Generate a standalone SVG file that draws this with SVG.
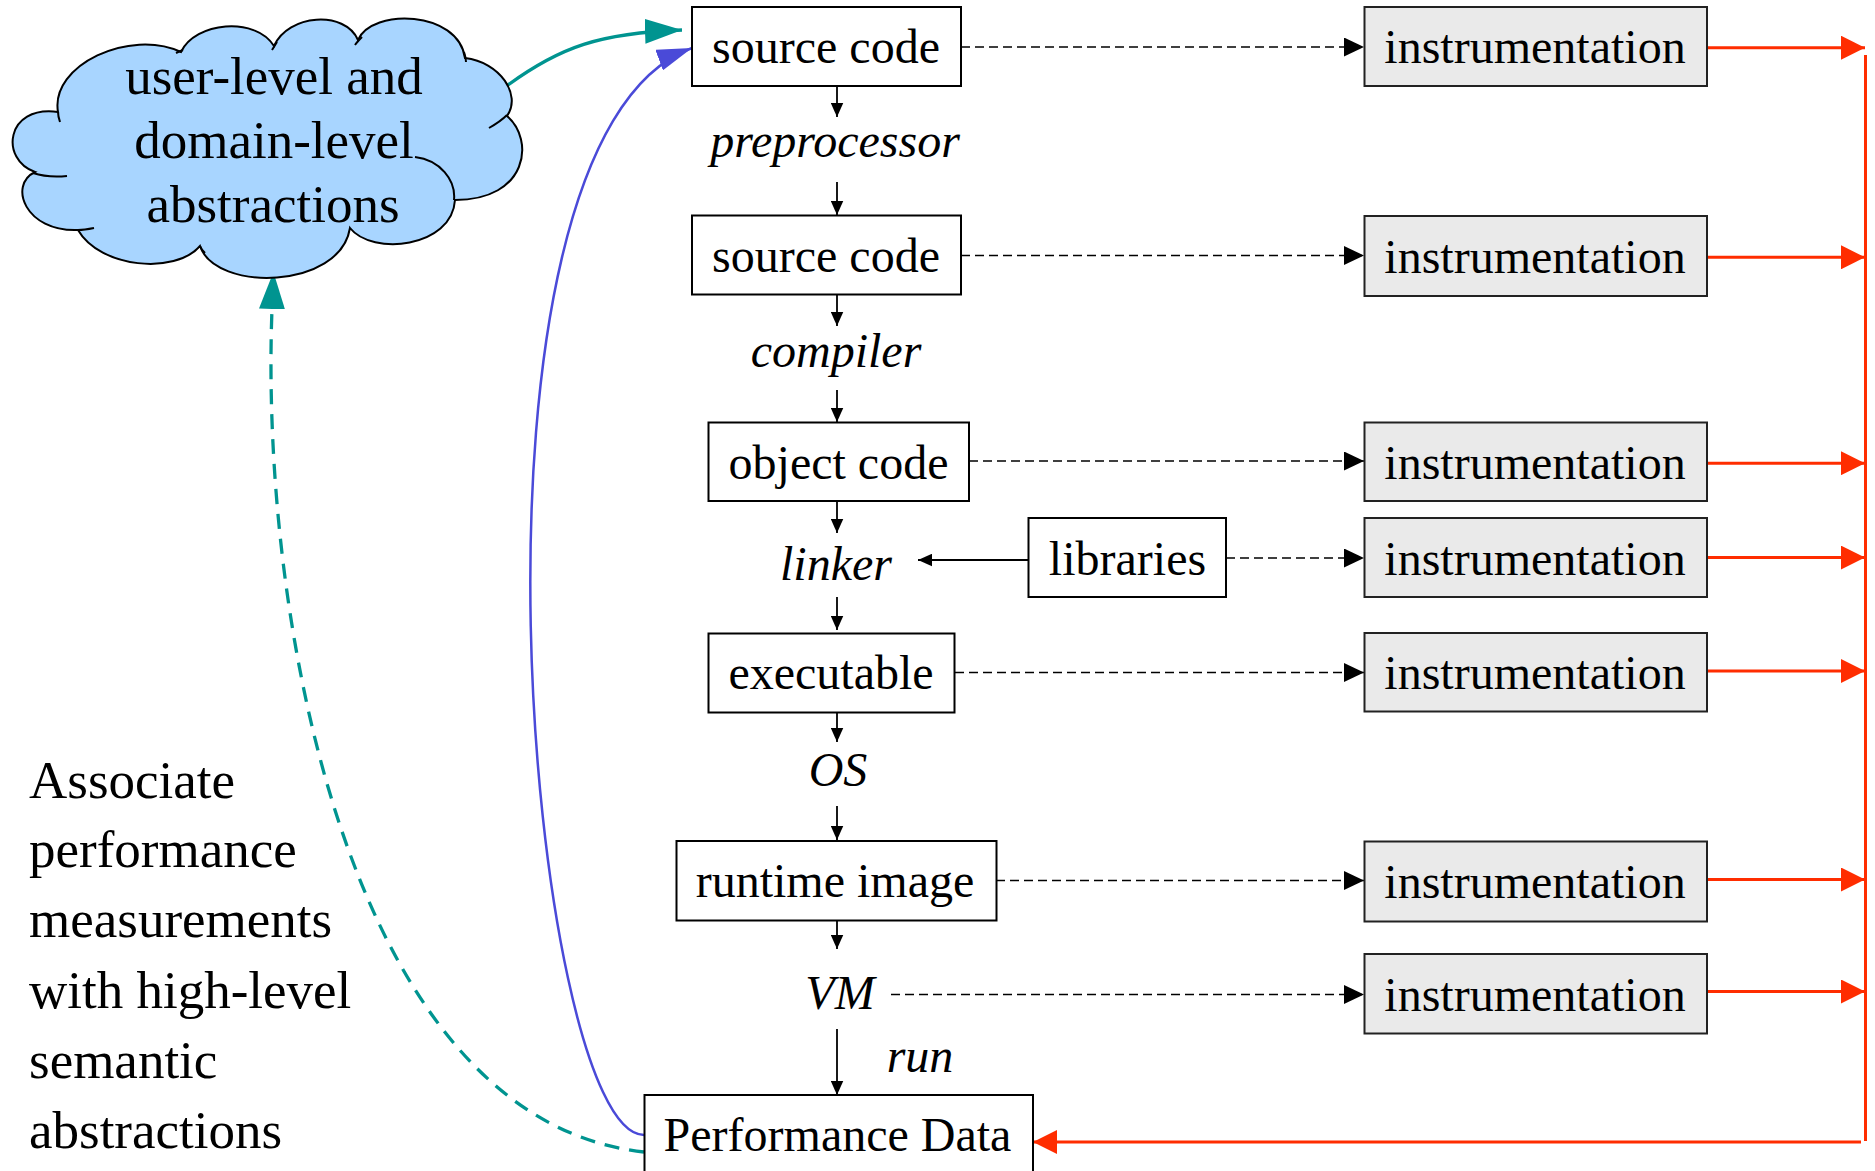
<svg xmlns="http://www.w3.org/2000/svg" width="1875" height="1171" viewBox="0 0 1875 1171">
<style>
.t{font-family:"Liberation Serif","Times New Roman",serif;font-size:48px;fill:#000}
.it{font-style:italic}
.big{font-size:53px}
.box{fill:#fff;stroke:#000;stroke-width:2}
.ibox{fill:#EAEAEA;stroke:#222;stroke-width:2}
.ar{stroke:#000;stroke-width:1.8;fill:none}
.da{stroke:#000;stroke-width:1.6;fill:none;stroke-dasharray:9 5}
.rd{stroke:#FF2D00;stroke-width:3;fill:none}
</style>
<defs>
<marker id="ah" markerUnits="userSpaceOnUse" markerWidth="14" markerHeight="13" viewBox="0 0 14 12.5" refX="14" refY="6.25" orient="auto"><path d="M0,0 L14,6.25 L0,12.5 z" fill="#000"/></marker>
<marker id="dh" markerUnits="userSpaceOnUse" markerWidth="20" markerHeight="19" viewBox="0 0 20 19" refX="20" refY="9.5" orient="auto"><path d="M0,0 L20,9.5 L0,19 z" fill="#000"/></marker>
<marker id="rh" markerUnits="userSpaceOnUse" markerWidth="24" markerHeight="24" viewBox="0 0 24 24" refX="24" refY="12" orient="auto"><path d="M0,0 L24,12 L0,24 z" fill="#FF2D00"/></marker>
<marker id="th" markerUnits="userSpaceOnUse" markerWidth="37" markerHeight="25" viewBox="0 0 37 25" refX="37" refY="12.5" orient="auto"><path d="M0,0 L37,12.5 L0,25 z" fill="#009490"/></marker>
<marker id="th0" markerUnits="userSpaceOnUse" markerWidth="37" markerHeight="26" viewBox="0 0 37 26" refX="0" refY="13" orient="auto"><path d="M0,0 L37,13 L0,26 z" fill="#009490"/></marker>
<marker id="bh" markerUnits="userSpaceOnUse" markerWidth="35" markerHeight="22" viewBox="0 0 35 22" refX="35" refY="11" orient="auto"><path d="M0,0 L35,11 L0,22 z" fill="#4A4AD8"/></marker>
</defs>

<g id="connectors">
  <!-- main flow arrows -->
  <line class="ar" x1="837" y1="86" x2="837" y2="117" marker-end="url(#ah)"/>
  <line class="ar" x1="837" y1="182" x2="837" y2="215" marker-end="url(#ah)"/>
  <line class="ar" x1="837" y1="294" x2="837" y2="326" marker-end="url(#ah)"/>
  <line class="ar" x1="837" y1="390" x2="837" y2="422" marker-end="url(#ah)"/>
  <line class="ar" x1="837" y1="501" x2="837" y2="533" marker-end="url(#ah)"/>
  <line class="ar" x1="837" y1="597" x2="837" y2="630" marker-end="url(#ah)"/>
  <line class="ar" x1="837" y1="712" x2="837" y2="742" marker-end="url(#ah)"/>
  <line class="ar" x1="837" y1="806" x2="837" y2="840" marker-end="url(#ah)"/>
  <line class="ar" x1="837" y1="920" x2="837" y2="949" marker-end="url(#ah)"/>
  <line class="ar" x1="837" y1="1029" x2="837" y2="1095" marker-end="url(#ah)"/>
  <line class="ar" x1="1028" y1="560" x2="918" y2="560" marker-end="url(#ah)"/>
  <!-- dashed to instrumentation -->
  <line class="da" x1="961" y1="47" x2="1364" y2="47" marker-end="url(#dh)"/>
  <line class="da" x1="961" y1="255.5" x2="1364" y2="255.5" marker-end="url(#dh)"/>
  <line class="da" x1="969" y1="461" x2="1364" y2="461" marker-end="url(#dh)"/>
  <line class="da" x1="1226" y1="558" x2="1364" y2="558" marker-end="url(#dh)"/>
  <line class="da" x1="955" y1="672.5" x2="1364" y2="672.5" marker-end="url(#dh)"/>
  <line class="da" x1="996" y1="880.5" x2="1364" y2="880.5" marker-end="url(#dh)"/>
  <line class="da" x1="891" y1="994.5" x2="1364" y2="994.5" marker-end="url(#dh)"/>
  <!-- red collectors -->
  <line class="rd" x1="1707" y1="47.7" x2="1865" y2="47.7" marker-end="url(#rh)"/>
  <line class="rd" x1="1707" y1="257.3" x2="1865" y2="257.3" marker-end="url(#rh)"/>
  <line class="rd" x1="1707" y1="463.2" x2="1865" y2="463.2" marker-end="url(#rh)"/>
  <line class="rd" x1="1707" y1="557.6" x2="1865" y2="557.6" marker-end="url(#rh)"/>
  <line class="rd" x1="1707" y1="671" x2="1865" y2="671" marker-end="url(#rh)"/>
  <line class="rd" x1="1707" y1="879.5" x2="1865" y2="879.5" marker-end="url(#rh)"/>
  <line class="rd" x1="1707" y1="991.5" x2="1865" y2="991.5" marker-end="url(#rh)"/>
  <line class="rd" x1="1865.5" y1="55" x2="1865.5" y2="1141"/>
  <line class="rd" x1="1861" y1="1142" x2="1033" y2="1142" marker-end="url(#rh)"/>
  <!-- curves -->
  <path d="M508,85 C560,47 600,33 682,30" fill="none" stroke="#009490" stroke-width="3.3" marker-end="url(#th)"/>
  <path d="M644,1135 C530,1135 440,140 692,48" fill="none" stroke="#4A4AD8" stroke-width="2.5" marker-end="url(#bh)"/>
  <path d="M644,1152 C350,1120 260,620 272,309" fill="none" stroke="#009490" stroke-width="3.3" stroke-dasharray="15 10" marker-end="url(#th0)"/>
</g>

<g id="cloud">
  <path d="M58,112 C50,65 130,28 181,52 C195,22 255,16 274,46 C288,14 345,10 358,40 C372,8 458,10 465,58 C500,62 522,95 507,116 C535,140 528,200 455,200 C452,248 372,256 350,228 C340,290 215,292 200,246 C175,275 100,268 78,230 C25,232 8,185 35,172 C0,160 5,105 58,112 Z" fill="#A8D5FF" stroke="#000" stroke-width="2"/>
  <path d="M415,157 C440,160 456,180 454,200 M33,173 C45,177 57,177 67,176 M78,230 C84,230 89,229 94,228 M200,246 C201,249 203,251 205,253 M489,128 C496,124 502,120 507,115 M466,62 C466,59 465,55 464,52 M355,45 C357,42 359,40 362,37 M272,50 C274,47 275,45 277,42 M176,53 C178,52 180,51 183,50 M58,112 C58,116 59,119 60,122" fill="none" stroke="#000" stroke-width="2"/>
  <text class="t big" x="274" y="94" text-anchor="middle">user-level and</text>
  <text class="t big" x="274" y="158" text-anchor="middle">domain-level</text>
  <text class="t big" x="273" y="222" text-anchor="middle">abstractions</text>
</g>

<g id="src1"><rect class="box" x="692" y="7" width="269" height="79"/><text class="t" x="826" y="63" text-anchor="middle">source code</text></g>
<g id="preprocessor"><text class="t it" x="835" y="157" text-anchor="middle">preprocessor</text></g>
<g id="src2"><rect class="box" x="692" y="215.5" width="269" height="79"/><text class="t" x="826" y="272" text-anchor="middle">source code</text></g>
<g id="compiler"><text class="t it" x="836" y="367" text-anchor="middle">compiler</text></g>
<g id="obj"><rect class="box" x="708.5" y="422.5" width="260.5" height="78.5"/><text class="t" x="838.5" y="479" text-anchor="middle">object code</text></g>
<g id="linker"><text class="t it" x="836" y="580" text-anchor="middle">linker</text></g>
<g id="libraries"><rect class="box" x="1028.5" y="518" width="197.5" height="79"/><text class="t" x="1127.5" y="574.5" text-anchor="middle">libraries</text></g>
<g id="exec"><rect class="box" x="708.5" y="633.5" width="246" height="79"/><text class="t" x="831" y="689" text-anchor="middle">executable</text></g>
<g id="os"><text class="t it" x="838" y="786" text-anchor="middle">OS</text></g>
<g id="runtime"><rect class="box" x="676.5" y="841" width="320" height="79.5"/><text class="t" x="835" y="897" text-anchor="middle">runtime image</text></g>
<g id="vm"><text class="t it" x="840" y="1009" text-anchor="middle">VM</text></g>
<g id="run"><text class="t it" x="920" y="1072" text-anchor="middle">run</text></g>
<g id="perf"><rect class="box" x="644.5" y="1095" width="388.5" height="90"/><text class="t" x="837.5" y="1151" text-anchor="middle">Performance Data</text></g>

<g id="instr1"><rect class="ibox" x="1364.5" y="7" width="342.5" height="79"/><text class="t" x="1535" y="63" text-anchor="middle">instrumentation</text></g>
<g id="instr2"><rect class="ibox" x="1364.5" y="216" width="342.5" height="80"/><text class="t" x="1535" y="272.5" text-anchor="middle">instrumentation</text></g>
<g id="instr3"><rect class="ibox" x="1364.5" y="422.5" width="342.5" height="78.5"/><text class="t" x="1535" y="479" text-anchor="middle">instrumentation</text></g>
<g id="instr4"><rect class="ibox" x="1364.5" y="518" width="342.5" height="79"/><text class="t" x="1535" y="575" text-anchor="middle">instrumentation</text></g>
<g id="instr5"><rect class="ibox" x="1364.5" y="633" width="342.5" height="78.5"/><text class="t" x="1535" y="689" text-anchor="middle">instrumentation</text></g>
<g id="instr6"><rect class="ibox" x="1364.5" y="841.5" width="342.5" height="80"/><text class="t" x="1535" y="898" text-anchor="middle">instrumentation</text></g>
<g id="instr7"><rect class="ibox" x="1364.5" y="954" width="342.5" height="79.5"/><text class="t" x="1535" y="1010.5" text-anchor="middle">instrumentation</text></g>

<g id="note">
  <text class="t big" x="29" y="798">Associate</text>
  <text class="t big" x="29" y="867">performance</text>
  <text class="t big" x="29" y="937">measurements</text>
  <text class="t big" x="29" y="1008">with high-level</text>
  <text class="t big" x="29" y="1078">semantic</text>
  <text class="t big" x="29" y="1148">abstractions</text>
</g>
</svg>
